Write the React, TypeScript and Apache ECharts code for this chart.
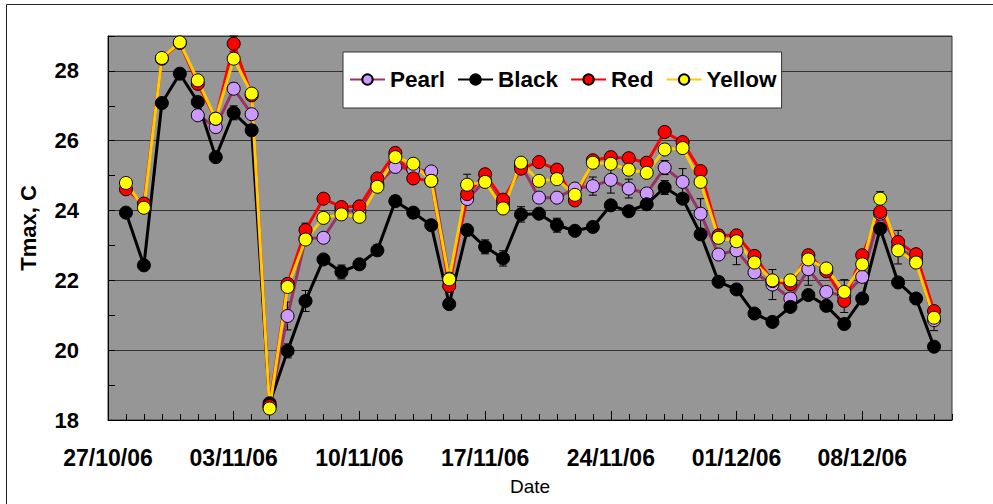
import React, { useEffect, useRef } from "react";
import * as echarts from "echarts";

const dates = [
  "28/10/06", "29/10/06", "30/10/06", "31/10/06",
  "01/11/06", "02/11/06", "03/11/06", "04/11/06", "05/11/06", "06/11/06", "07/11/06", "08/11/06", "09/11/06", "10/11/06",
  "11/11/06", "12/11/06", "13/11/06", "14/11/06", "15/11/06", "16/11/06", "17/11/06", "18/11/06", "19/11/06", "20/11/06",
  "21/11/06", "22/11/06", "23/11/06", "24/11/06", "25/11/06", "26/11/06", "27/11/06", "28/11/06", "29/11/06", "30/11/06",
  "01/12/06", "02/12/06", "03/12/06", "04/12/06", "05/12/06", "06/12/06", "07/12/06", "08/12/06", "09/12/06", "10/12/06",
  "11/12/06", "12/12/06",
];

const pearl = [
  null, null, null, null, 26.73, 26.39, 27.49, 26.76, 18.4, 20.98,
  23.2, 23.22, 24.0, 23.98, 24.75, 25.25, 25.18, 25.12, 22.05, 24.33,
  24.85, 24.2, 25.3, 24.37, 24.37, 24.63, 24.7, 24.88, 24.63, 24.49,
  25.23, 24.82, 23.91, 22.74, 22.86, 22.23, 21.88, 21.48, 22.32, 21.67,
  21.55, 22.1, 23.91, 22.95, 22.6, 20.86,
];
const black = [
  23.94, 22.43, 27.08, 27.92, 27.11, 25.53, 26.8, 26.3, 18.48, 19.98,
  21.41, 22.6, 22.24, 22.46, 22.86, 24.27, 23.94, 23.58, 21.32, 23.44,
  22.96, 22.63, 23.89, 23.91, 23.58, 23.42, 23.53, 24.15, 23.98, 24.18,
  24.66, 24.34, 23.32, 21.96, 21.74, 21.05, 20.81, 21.24, 21.58, 21.27,
  20.75, 21.48, 23.48, 21.94, 21.48, 20.1,
];
const red = [
  24.61, 24.2, 28.35, 28.8, 27.63, 26.63, 28.78, 27.3, 18.4, 21.9,
  23.44, 24.34, 24.1, 24.12, 24.92, 25.65, 24.92, 24.85, 21.84, 24.47,
  25.04, 24.31, 25.2, 25.39, 25.17, 24.29, 25.44, 25.53, 25.5, 25.37,
  26.25, 25.96, 25.13, 23.29, 23.29, 22.7, 21.98, 21.89, 22.72, 22.26,
  21.41, 22.72, 23.96, 23.1, 22.75, 21.12,
];
const yellow = [
  24.79, 24.08, 28.37, 28.82, 27.73, 26.63, 28.35, 27.35, 18.33, 21.81,
  23.17, 23.79, 23.89, 23.82, 24.68, 25.53, 25.34, 24.85, 22.03, 24.74,
  24.82, 24.06, 25.37, 24.85, 24.9, 24.45, 25.37, 25.34, 25.17, 25.08,
  25.75, 25.79, 24.82, 23.22, 23.12, 22.51, 22.0, 22.0, 22.6, 22.34,
  21.67, 22.46, 24.34, 22.86, 22.51, 20.93,
];

// error bar half-widths (0 = not visible)
const pearlErr = [
  0, 0, 0, 0, 0, 0, 0.16, 0, 0, 0.4,
  0, 0, 0, 0, 0, 0, 0, 0.1, 0, 0,
  0, 0, 0, 0, 0, 0, 0.26, 0.38, 0.27, 0,
  0.2, 0.38, 0.43, 0, 0.41, 0, 0.43, 0, 0.46, 0,
  0.47, 0, 0, 0.48, 0, 0.3,
];
const blackErr = [
  0, 0, 0, 0, 0, 0, 0.2, 0.15, 0, 0.2,
  0.3, 0, 0.2, 0, 0.15, 0.15, 0.15, 0, 0, 0.15,
  0.2, 0.22, 0.22, 0, 0.2, 0, 0.15, 0, 0, 0,
  0.2, 0, 0, 0, 0, 0, 0, 0, 0, 0,
  0, 0, 0, 0, 0, 0,
];
const redErr = [
  0, 0, 0, 0, 0, 0, 0.22, 0, 0, 0,
  0.2, 0, 0, 0.12, 0, 0, 0, 0, 0, 0,
  0, 0, 0, 0.12, 0, 0, 0, 0, 0, 0,
  0, 0, 0, 0.15, 0, 0, 0, 0, 0, 0,
  0, 0, 0, 0, 0, 0,
];
const yellowErr = [
  0, 0, 0, 0, 0, 0, 0, 0, 0, 0,
  0, 0, 0, 0, 0, 0, 0, 0, 0, 0.3,
  0, 0, 0, 0, 0, 0, 0, 0, 0, 0,
  0, 0, 0, 0, 0, 0, 0, 0, 0, 0,
  0, 0, 0.2, 0, 0, 0,
];

const START = Date.UTC(2006, 9, 27);
const DAY = 86400000;

function parseDay(s: string): number {
  const [d, m, y] = s.split("/").map(Number);
  return Math.round((Date.UTC(2000 + y, m - 1, d) - START) / DAY);
}
function fmt(v: number): string {
  const dt = new Date(START + v * DAY);
  const dd = String(dt.getUTCDate()).padStart(2, "0");
  const mm = String(dt.getUTCMonth() + 1).padStart(2, "0");
  const yy = String(dt.getUTCFullYear() % 100).padStart(2, "0");
  return `${dd}/${mm}/${yy}`;
}

const FONT = "'Liberation Sans', Arial, sans-serif";

export default function App() {
  const ref = useRef<HTMLDivElement>(null);
  useEffect(() => {
    if (!ref.current) return;
    const chart = echarts.init(ref.current, null, { renderer: "svg" });
    const days = dates.map(parseDay);
    const pts = (vals: (number | null)[]) => days.map((d, i) => [d, vals[i] == null ? null : vals[i]]);
    const errPts = (vals: (number | null)[], errs: number[]) =>
      days
        .map((d, i) => [d, vals[i], errs[i]])
        .filter((p) => p[1] != null && (p[2] as number) > 0);

    const errSeries = (name: string, vals: (number | null)[], errs: number[]) => ({
      type: "custom",
      name,
      silent: true,
      data: errPts(vals, errs),
      renderItem: (params: any, api: any) => {
        const x = api.value(0);
        const y = api.value(1);
        const e = api.value(2);
        const p1 = api.coord([x, y + e]);
        const p2 = api.coord([x, y - e]);
        const hw = 4;
        const st = { stroke: "#000", lineWidth: 1 };
        return {
          type: "group",
          children: [
            { type: "line", shape: { x1: p1[0], y1: p1[1], x2: p2[0], y2: p2[1] }, style: st },
            { type: "line", shape: { x1: p1[0] - hw, y1: p1[1], x2: p1[0] + hw, y2: p1[1] }, style: st },
            { type: "line", shape: { x1: p2[0] - hw, y1: p2[1], x2: p2[0] + hw, y2: p2[1] }, style: st },
          ],
        };
      },
    });

    const lineSeries = (name: string, vals: (number | null)[], lineColor: string, fill: string) => ({
      type: "line",
      name,
      data: pts(vals),
      symbol: "circle",
      symbolSize: 13,
      showAllSymbol: true,
      connectNulls: false,
      lineStyle: { color: lineColor, width: 3 },
      itemStyle: { color: fill, borderColor: "#000", borderWidth: 1 },
      emphasis: { disabled: true },
    });

    chart.setOption({
      animation: false,
      backgroundColor: "#fff",
      textStyle: { fontFamily: FONT },
      graphic: [
        {
          type: "rect",
          shape: { x: 6.5, y: 4.5, width: 1100, height: 700 },
          style: { fill: "none", stroke: "#222", lineWidth: 1 },
          silent: true,
        },
      ],
      grid: {
        left: 108,
        top: 36,
        right: 41,
        bottom: 84,
        show: true,
        backgroundColor: "#969696",
        borderColor: "#333",
        borderWidth: 1,
      },
      legend: {
        data: ["Pearl", "Black", "Red", "Yellow"],
        left: 343,
        top: 52,
        orient: "horizontal",
        backgroundColor: "#fff",
        borderColor: "#333",
        borderWidth: 1,
        padding: [16, 5, 17, 6],
        itemGap: 12,
        itemWidth: 35,
        itemHeight: 13,
        textStyle: { fontFamily: FONT, fontSize: 22.5, fontWeight: "bold", color: "#000", lineHeight: 22 },
      },
      xAxis: [
        {
          type: "value",
          min: 0,
          max: 47,
          interval: 7,
          position: "bottom",
          axisLine: { show: true, lineStyle: { color: "#000", width: 1 } },
          axisTick: { show: true, inside: true, length: 9, lineStyle: { color: "#000" } },
          axisLabel: {
            formatter: (v: number) => fmt(v),
            fontFamily: FONT,
            fontSize: 23,
            fontWeight: "bold",
            color: "#000",
            margin: 26,
            showMaxLabel: false,
          },
          splitLine: { show: false },
          name: "Date",
          nameLocation: "middle",
          nameGap: 57,
          nameTextStyle: { fontFamily: FONT, fontSize: 19, color: "#000" },
        },
        {
          type: "value",
          min: 0,
          max: 47,
          interval: 1,
          position: "bottom",
          axisLine: { show: false },
          axisTick: { show: true, inside: true, length: 6, lineStyle: { color: "#000" } },
          axisLabel: { show: false },
          splitLine: { show: false },
        },
      ],
      yAxis: [
        {
          type: "value",
          min: 18,
          max: 29,
          interval: 2,
          position: "left",
          axisLine: { show: true, lineStyle: { color: "#000", width: 1 } },
          axisTick: { show: true, inside: true, length: 7, lineStyle: { color: "#000" } },
          axisLabel: {
            fontFamily: FONT,
            fontSize: 22,
            fontWeight: "bold",
            color: "#000",
            margin: 29,
            showMaxLabel: false,
          },
          splitLine: { show: true, lineStyle: { color: "#333", width: 1 } },
          name: "Tmax, C",
          nameLocation: "middle",
          nameRotate: 90,
          nameGap: 69,
          nameTextStyle: { fontFamily: FONT, fontSize: 22, fontWeight: "bold", color: "#000" },
        },
        {
          type: "value",
          min: 18,
          max: 29,
          interval: 1,
          position: "left",
          axisLine: { show: false },
          axisTick: { show: true, inside: true, length: 7, lineStyle: { color: "#000" } },
          axisLabel: { show: false },
          splitLine: { show: false },
        },
      ],
      series: [
        errSeries("Pearl err", pearl, pearlErr),
        lineSeries("Pearl", pearl, "#993366", "#CC99FF"),
        errSeries("Black err", black, blackErr),
        lineSeries("Black", black, "#000000", "#000000"),
        errSeries("Red err", red, redErr),
        lineSeries("Red", red, "#FF0000", "#FF0000"),
        errSeries("Yellow err", yellow, yellowErr),
        lineSeries("Yellow", yellow, "#FFCC00", "#FFFF00"),
      ],
    });
    return () => chart.dispose();
  }, []);
  return (
    <div
      ref={ref}
      style={{ position: "fixed", left: 0, top: 0, width: 993, height: 504, background: "#fff" }}
    />
  );
}
